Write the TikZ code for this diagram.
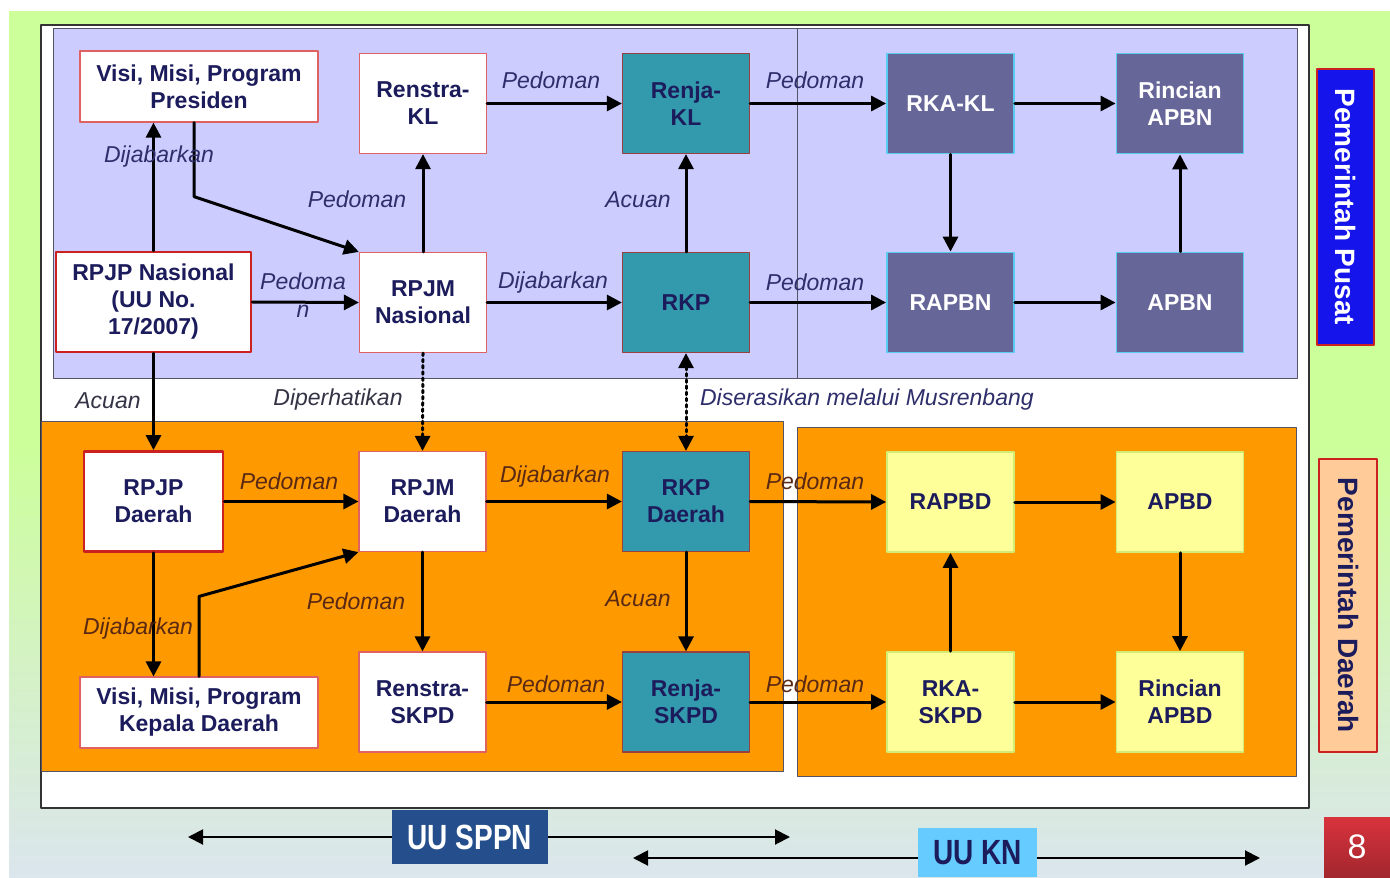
\documentclass[tikz,border=0pt]{standalone}
\usepackage{fontspec}
\setmainfont{Liberation Sans}
\newfontfamily\sempit[FakeStretch=0.8]{Liberation Sans}
\usepackage{tikz}
\usetikzlibrary{calc}
\usetikzlibrary{arrows.meta}
\definecolor{hijau}{rgb}{0.8,1.,0.6}
\definecolor{abu}{rgb}{0.86,0.9,0.93}
\definecolor{bingkai}{rgb}{0.2,0.2,0.2}
\definecolor{garis}{rgb}{0.33,0.33,0.4}
\definecolor{ccccff}{rgb}{0.8,0.8,1.}
\definecolor{oranye}{rgb}{1.,0.6,0.}
\definecolor{tosca}{rgb}{0.2,0.6,0.68}
\definecolor{ungu}{rgb}{0.4,0.4,0.6}
\definecolor{kuning}{rgb}{1.,1.,0.6}
\definecolor{pinggirkuning}{rgb}{0.82,0.93,0.45}
\definecolor{merahmuda}{rgb}{0.88,0.38,0.38}
\definecolor{merah}{rgb}{0.8,0.13,0.13}
\definecolor{merahtua}{rgb}{0.6,0.25,0.25}
\definecolor{sian}{rgb}{0.35,0.8,0.95}
\definecolor{navy}{rgb}{0.11,0.11,0.36}
\definecolor{birupusat}{rgb}{0.08,0.08,0.92}
\definecolor{peach}{rgb}{1.,0.8,0.6}
\definecolor{birutua}{rgb}{0.14,0.31,0.55}
\definecolor{birulangit}{rgb}{0.4,0.8,1.}
\definecolor{ketatas}{rgb}{0.18,0.18,0.42}
\definecolor{ketbawah}{rgb}{0.35,0.16,0.08}
\definecolor{ketputih}{rgb}{0.2,0.2,0.27}
\definecolor{merahhal}{rgb}{0.85,0.2,0.24}
\tikzstyle{every node}=[font=\bfseries\fontsize{11.5}{13.5}\selectfont]
\tikzstyle{kotak}=[draw, minimum width=63.5pt, minimum height=50pt, align=center, inner sep=1pt]
\tikzstyle{kotakputih}=[kotak, fill=white, draw=merahmuda, line width=0.6pt, text=navy]
\tikzstyle{kotaktebal}=[kotak, fill=white, draw=merah, line width=1.4pt, text=navy]
\tikzstyle{kotaktosca}=[kotak, fill=tosca, draw=merahtua, line width=0.6pt, text=navy]
\tikzstyle{kotakungu}=[kotak, fill=ungu, draw=sian, line width=0.9pt, text=white]
\tikzstyle{kotakkuning}=[kotak, fill=kuning, draw=pinggirkuning, line width=0.9pt, text=navy]
\tikzstyle{ket}=[font=\itshape\fontsize{11.5}{14}\selectfont, align=center]
\tikzstyle{panah}=[->, line width=1.5pt]
\tikzstyle{titik}=[dash pattern=on 1.3pt off 1.8pt]

\begin{document}
\begin{tikzpicture}[line cap=round,line join=round,>={Triangle[length=7.5pt,width=7.5pt]},x=0.5pt,y=-0.5pt]
\useasboundingbox (0,0) rectangle (1390,877);
% latar
\fill[white] (0,0) rectangle (1390,877);
\fill[hijau] (9,11) rectangle (1390,440);
\shade[top color=hijau, bottom color=abu] (9,440) rectangle (1390,877);
\draw[line width=0.8pt, color=bingkai, fill=white] (41,25) rectangle (1309,808);
\draw[line width=0.5pt, color=garis, fill=ccccff] (53,29) rectangle (1297,378);
\draw[line width=0.5pt, color=garis] (797,29) -- (797,378);
\draw[line width=0.5pt, color=garis, fill=oranye] (41,421) rectangle (783,771);
\draw[line width=0.5pt, color=garis, fill=oranye] (797,427) rectangle (1296,776);

% pusat
\node[kotakputih, minimum width=119pt, minimum height=35.5pt] (visipres) at (199,86.5) {Visi, Misi, Program\\Presiden};
\node[kotakputih] (renstrakl) at (423,103.5) {Renstra-\\KL};
\node[kotaktebal, minimum width=97.5pt] (rpjpnas) at (153.5,302) {RPJP Nasional\\(UU No.\\17/2007)};
\node[kotakputih] (rpjmnas) at (423,302.5) {RPJM\\Nasional};
\node[kotaktosca] (renjakl) at (686,103.5) {Renja-\\KL};
\node[kotaktosca] (rkp) at (686,302.5) {RKP};
\node[kotakungu] (rkakl) at (950.5,103.5) {RKA-KL};
\node[kotakungu] (rincianapbn) at (1180,103.5) {Rincian\\APBN};
\node[kotakungu] (rapbn) at (950.5,302.5) {RAPBN};
\node[kotakungu] (apbn) at (1180,302.5) {APBN};
% daerah
\node[kotaktebal, minimum width=69.5pt] (rpjpd) at (153.5,501.5) {RPJP\\Daerah};
\node[kotakputih] (rpjmd) at (422.5,501.5) {RPJM\\Daerah};
\node[kotakputih, minimum width=119pt, minimum height=35.5pt] (visikd) at (199,712.5) {Visi, Misi, Program\\Kepala Daerah};
\node[kotakputih] (renstraskpd) at (422.5,702) {Renstra-\\SKPD};
\node[kotaktosca] (rkpd) at (686,501.5) {RKP\\Daerah};
\node[kotaktosca] (renjaskpd) at (686,702) {Renja-\\SKPD};
\node[kotakkuning] (rapbd) at (950.5,502) {RAPBD};
\node[kotakkuning] (apbd) at (1180,502) {APBD};
\node[kotakkuning] (rkaskpd) at (950.5,702) {RKA-\\SKPD};
\node[kotakkuning] (rincianapbd) at (1180,702) {Rincian\\APBD};

% panah pusat
\draw[panah] (rpjpnas.north) -- (rpjpnas.north |- visipres.south);
\draw[panah] ([xshift=-2.5pt]visipres.south) -- ++(0,74) -- (rpjmnas.north west);
\draw[panah] (rpjpnas.east) -- (rpjmnas.west);
\draw[panah] (rpjmnas.north) -- (renstrakl.south);
\draw[panah] (renstrakl.east) -- (renjakl.west);
\draw[panah] (rpjmnas.east) -- (rkp.west);
\draw[panah] (rkp.north) -- (renjakl.south);
\draw[panah] (renjakl.east) -- (rkakl.west);
\draw[panah] (rkp.east) -- (rapbn.west);
\draw[panah] (rkakl.south) -- (rapbn.north);
\draw[panah] (rkakl.east) -- (rincianapbn.west);
\draw[panah] (rapbn.east) -- (apbn.west);
\draw[panah] (apbn.north) -- (rincianapbn.south);
% panah antar tingkat
\draw[panah] (rpjpnas.south) -- (rpjpd.north);
\draw[panah, titik] (rpjmnas.south) -- (rpjmd.north);
\draw[<->, line width=1.5pt, titik] (rkp.south) -- (rkpd.north);
% panah daerah
\draw[panah] (rpjpd.east) -- (rpjmd.west);
\draw[panah] (rpjpd.south) -- (rpjpd.south |- visikd.north);
\draw[panah] (visikd.north) -- ++(0,-80) -- (rpjmd.south west);
\draw[panah] (rpjmd.south) -- (renstraskpd.north);
\draw[panah] (rpjmd.east) -- (rkpd.west);
\draw[panah] (rkpd.south) -- (renjaskpd.north);
\draw[panah] (renstraskpd.east) -- (renjaskpd.west);
\draw[panah] (rkpd.east) -- (rapbd.west);
\draw[panah] (renjaskpd.east) -- (rkaskpd.west);
\draw[panah] (rkaskpd.north) -- (rapbd.south);
\draw[panah] (rapbd.east) -- (apbd.west);
\draw[panah] (apbd.south) -- (rincianapbd.north);
\draw[panah] (rkaskpd.east) -- (rincianapbd.west);

% keterangan
\node[ket, text=ketatas] (k1) at (159,157) {Dijabarkan};
\node[ket, text=ketatas] (k2) at (303,295) {Pedoma\\n};
\node[ket, text=ketatas] (k3) at (357,199) {Pedoman};
\node[ket, text=ketatas] (k4) at (551,80) {Pedoman};
\node[ket, text=ketatas] (k5) at (553,283) {Dijabarkan};
\node[ket, text=ketatas] (k6) at (638,200) {Acuan};
\node[ket, text=ketatas] (k7) at (815,80) {Pedoman};
\node[ket, text=ketatas] (k8) at (815,282) {Pedoman};
\node[ket, text=ketputih] (k9) at (108,401) {Acuan};
\node[ket, text=ketputih] (k10) at (338,400) {Diperhatikan};
\node[ket, text=ketatas, anchor=west] (k11) at (693,400) {Diserasikan melalui Musrenbang};
\node[ket, text=ketbawah] (k12) at (289,481) {Pedoman};
\node[ket, text=ketbawah] (k13) at (138,629) {Dijabarkan};
\node[ket, text=ketbawah] (k14) at (356,601) {Pedoman};
\node[ket, text=ketbawah] (k15) at (555,477) {Dijabarkan};
\node[ket, text=ketbawah] (k16) at (638,599) {Acuan};
\node[ket, text=ketbawah] (k17) at (556,684) {Pedoman};
\node[ket, text=ketbawah] (k18) at (815,481) {Pedoman};
\node[ket, text=ketbawah] (k19) at (815,684) {Pedoman};

% pemerintah
\node[rotate=-90, draw=merah, line width=1pt, fill=birupusat, text=white, minimum width=138pt, minimum height=28.5pt, font=\bfseries\fontsize{14}{16}\selectfont] (pusat) at (1345.5,207) {Pemerintah Pusat};
\node[rotate=-90, draw=merah, line width=1pt, fill=peach, text=navy, minimum width=146.5pt, minimum height=29pt, font=\bfseries\fontsize{14}{16}\selectfont] (daerah) at (1348,605.5) {Pemerintah Daerah};

% undang-undang
\coordinate (sppnkiri) at (188,837);
\coordinate (sppnkanan) at (790,837);
\coordinate (knkiri) at (633,858);
\coordinate (knkanan) at (1260,858);
\draw[<->, line width=1pt] (sppnkiri) -- (sppnkanan);
\draw[<->, line width=1pt] (knkiri) -- (knkanan);
\node[fill=birutua, text=white, minimum width=78pt, minimum height=27pt, font=\sempit\bfseries\fontsize{17.5}{19}\selectfont] (uusppn) at (470,837) {UU SPPN};
\node[fill=birulangit, text=navy, minimum width=59.5pt, minimum height=24.5pt, font=\sempit\bfseries\fontsize{17.5}{19}\selectfont] (uukn) at (977.5,852.5) {UU KN};
\node[top color=merahhal, bottom color=merahhal!75!black, text=white, minimum width=33pt, minimum height=30pt, inner sep=0pt, font=\fontsize{17}{19}\selectfont] (hal) at (1357,847) {8};
\end{tikzpicture}
\end{document}
